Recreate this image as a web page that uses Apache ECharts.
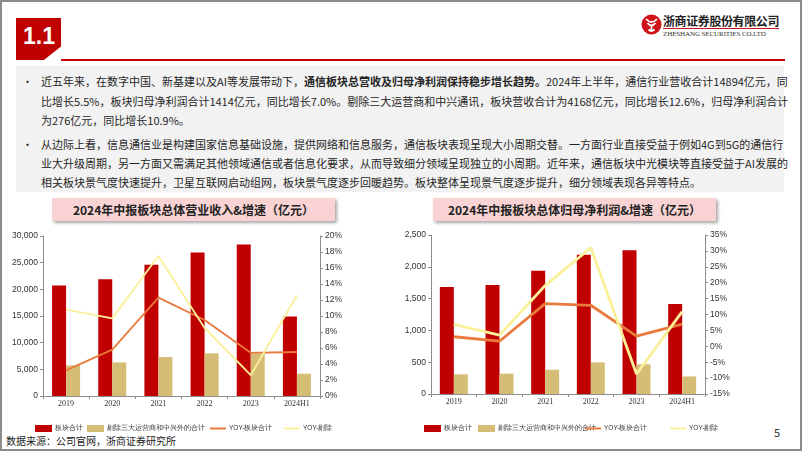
<!DOCTYPE html>
<html>
<head>
<meta charset="utf-8">
<script src="https://cdn.jsdelivr.net/npm/echarts/dist/echarts.min.js"></script>
<style>
  html, body { margin: 0; padding: 0; }
  body { width: 802px; height: 451px; position: relative; overflow: hidden; background: #fff;
         font-family: "Noto Sans CJK SC", "Noto Sans", sans-serif; color: #262626; }
  .abs { position: absolute; }
  #frame { left: 0; top: 0; width: 802px; height: 451px; box-sizing: border-box; border: 2px solid #8c8c8c; }
  #secbox { left: 16px; top: 18px; width: 45px; height: 42px; background: #c00000;
            clip-path: polygon(0 0, 100% 0, 100% 68%, 62% 100%, 0 100%); }
  #secbox span { position: absolute; left: 7px; top: 5px; color: #fff; font: bold 23px "Liberation Sans", Arial, sans-serif; }
  #redline { left: 61px; top: 59px; width: 724px; height: 2px; background: #c00000; }
  #graybox { left: 16px; top: 66px; width: 768px; height: 126px; background: #f2f2f2; }
  .ln { position: absolute; left: 41px; width: 740px; height: 16px; line-height: 16px; font-size: 11px;
        white-space: nowrap; text-align: justify; text-align-last: justify; }
  .ln.last { text-align-last: left; }
  .bul { position: absolute; left: 22px; font-size: 11px; line-height: 16px; height: 16px; }
  .ttl { position: absolute; top: 198px; width: 283px; height: 23px; line-height: 23px; background: #f9d3d3;
         box-shadow: 2px 2px 3px rgba(0,0,0,0.35); text-align: center; font-size: 12px; font-weight: bold; color: #222; }
  #chart { position: absolute; left: 0; top: 0; width: 802px; height: 451px; z-index: 2; }
</style>
</head>
<body>
<div id="frame" class="abs"></div>
<div id="secbox" class="abs"><span>1.1</span></div>
<div id="redline" class="abs"></div>

<!-- logo -->
<svg class="abs" style="left:641px;top:14px" width="21" height="21" viewBox="0 0 21 21">
  <circle cx="10.5" cy="10.5" r="10" fill="#d0121b"/>
  <path d="M5 5 Q10.5 11 16 5 M6.5 9 Q10.5 14 14.5 9 M10.5 11 L10.5 17 M7.5 15.5 Q10.5 18.5 13.5 15.5" stroke="#fff" stroke-width="1.8" fill="none"/>
</svg>
<div class="abs" style="left:663px;top:13px;font-size:12px;font-weight:bold;letter-spacing:-0.4px;color:#222;line-height:15px;white-space:nowrap;">浙商证券股份有限公司</div>
<div class="abs" style="left:663px;top:28px;width:116px;height:1px;background:#d0121b;"></div>
<div class="abs" style="left:663px;top:30px;font-size:7px;font-family:'Liberation Serif',serif;color:#333;line-height:8px;white-space:nowrap;letter-spacing:-0.1px;">ZHESHANG SECURITIES CO.LTD</div>

<div id="graybox" class="abs"></div>
<div class="bul" style="top:73px">•</div>
<div class="ln" style="top:73px">近五年来，在数字中国、新基建以及AI等发展带动下，<b>通信板块总营收及归母净利润保持稳步增长趋势。</b>2024年上半年，通信行业营收合计14894亿元，同</div>
<div class="ln" style="top:92.5px">比增长5.5%，板块归母净利润合计1414亿元，同比增长7.0%。剔除三大运营商和中兴通讯，板块营收合计为4168亿元，同比增长12.6%，归母净利润合计</div>
<div class="ln last" style="top:112px">为276亿元，同比增长10.9%。</div>
<div class="bul" style="top:136px">•</div>
<div class="ln" style="top:136px">从边际上看，信息通信业是构建国家信息基础设施，提供网络和信息服务，通信板块表现呈现大小周期交替。一方面行业直接受益于例如4G到5G的通信行</div>
<div class="ln" style="top:155px">业大升级周期，另一方面又需满足其他领域通信或者信息化要求，从而导致细分领域呈现独立的小周期。近年来，通信板块中光模块等直接受益于AI发展的</div>
<div class="ln last" style="top:174px">相关板块景气度快速提升，卫星互联网启动组网，板块景气度逐步回暖趋势。板块整体呈现景气度逐步提升，细分领域表现各异等特点。</div>

<div class="ttl" style="left:52px">2024年中报板块总体营业收入&amp;增速（亿元）</div>
<div class="ttl" style="left:433px">2024年中报板块总体归母净利润&amp;增速（亿元）</div>

<div class="abs" style="left:6px;top:433px;font-size:10px;line-height:16px;color:#222;white-space:nowrap;">数据来源：公司官网，浙商证券研究所</div>
<div class="abs" style="left:774px;top:425px;font-size:11px;line-height:14px;color:#333;">5</div>

<div id="chart"></div>

<script>
// ---------- data ----------
const categories = ['2019', '2020', '2021', '2022', '2023', '2024H1'];
const seriesNames = ['板块合计', '剔除三大运营商和中兴外的合计', 'YOY-板块合计', 'YOY-剔除'];

// 营业收入（亿元）
const revTotal = [20700, 21900, 24600, 26900, 28400, 14894];
const revExcl = [5750, 6300, 7300, 8000, 7950, 4168];
// 营业收入增速（%）
const revYoyTotal = [3.2, 5.8, 12.3, 9.5, 5.4, 5.5];
const revYoyExcl = [10.8, 9.7, 17.5, 8.5, 2.6, 12.6];

// 归母净利润（亿元）
const profitTotal = [1682, 1714, 1939, 2190, 2259, 1414];
const profitExcl = [310, 320, 382, 498, 467, 276];
// 归母净利润增速（%）
const profitYoyTotal = [3.0, 1.6, 13.4, 12.9, 3.2, 7.0];
const profitYoyExcl = [6.9, 3.5, 19.1, 31.0, -8.7, 10.9];

// axis ranges [min, max, interval]
const revAxis = [0, 30000, 5000];
const revPctAxis = [0, 20, 2];
const profitAxis = [0, 2500, 500];
const profitPctAxis = [-15, 35, 5];

// ---------- styles ----------
const C_RED = '#c00000', C_TAN = '#d6bd76', C_ORANGE = '#ea7a3c', C_YELLOW = '#fbf09a';
const AX = '#8c8c8c';
const numFmt = v => v.toLocaleString('en-US');

function xAxisFor(i) {
  return {
    type: 'category', gridIndex: i, data: categories,
    axisLine: { lineStyle: { color: AX } },
    axisTick: { show: true, length: 3, lineStyle: { color: AX } },
    axisLabel: { fontFamily: 'Liberation Serif', fontSize: 8, color: '#333', margin: 4 }
  };
}
function yAxisFor(i, rng, pos, fmt) {
  return {
    type: 'value', gridIndex: i, position: pos, min: rng[0], max: rng[1], interval: rng[2],
    axisLine: { show: true, lineStyle: { color: AX } },
    axisTick: { show: true, length: 3, lineStyle: { color: AX } },
    splitLine: { show: false },
    axisLabel: { fontFamily: 'Liberation Sans', fontSize: 8.5, color: '#333', margin: 5, formatter: fmt }
  };
}
function barS(name, data, color, ax) {
  return { name, type: 'bar', xAxisIndex: ax, yAxisIndex: ax * 2, data, barWidth: 14, barGap: '0%',
           itemStyle: { color } };
}
function lineS(name, data, color, ax, w) {
  return { name, type: 'line', xAxisIndex: ax, yAxisIndex: ax * 2 + 1, data, showSymbol: false, symbol: 'none',
           lineStyle: { color, width: w }, itemStyle: { color }, z: 5 };
}

const legendSpots = [
  // chart 0
  [30, 0, true], [82, 1, true], [205, 2, false], [279, 3, false],
  // chart 1
  [419, 0, true], [473, 1, true], [580, 2, false], [665, 3, false]
];
const legends = legendSpots.map(([x, idx, isBar]) => ({
  left: x, top: 420, data: [seriesNames[idx]], icon: 'rect',
  itemWidth: isBar ? 17 : 16, itemHeight: isBar ? 7 : 2, itemGap: 0,
  textStyle: { fontSize: 6.5, color: '#333', padding: [0, 0, 0, -2] }, selectedMode: false
}));

const chart = echarts.init(document.getElementById('chart'), null, { renderer: 'canvas' });
chart.setOption({
  animation: false,
  backgroundColor: 'transparent',
  legend: legends,
  grid: [
    { left: 43, top: 236, width: 277, height: 160 },
    { left: 431, top: 235, width: 274, height: 159 }
  ],
  xAxis: [xAxisFor(0), xAxisFor(1)],
  yAxis: [
    yAxisFor(0, revAxis, 'left', numFmt),
    yAxisFor(0, revPctAxis, 'right', '{value}%'),
    yAxisFor(1, profitAxis, 'left', numFmt),
    yAxisFor(1, profitPctAxis, 'right', '{value}%')
  ],
  series: [
    barS(seriesNames[0], revTotal, C_RED, 0),
    barS(seriesNames[1], revExcl, C_TAN, 0),
    lineS(seriesNames[2], revYoyTotal, C_ORANGE, 0, 1.8),
    lineS(seriesNames[3], revYoyExcl, C_YELLOW, 0, 1.8),
    barS(seriesNames[0], profitTotal, C_RED, 1),
    barS(seriesNames[1], profitExcl, C_TAN, 1),
    lineS(seriesNames[2], profitYoyTotal, C_ORANGE, 1, 2.8),
    lineS(seriesNames[3], profitYoyExcl, C_YELLOW, 1, 2.8)
  ]
});
</script>
</body>
</html>
